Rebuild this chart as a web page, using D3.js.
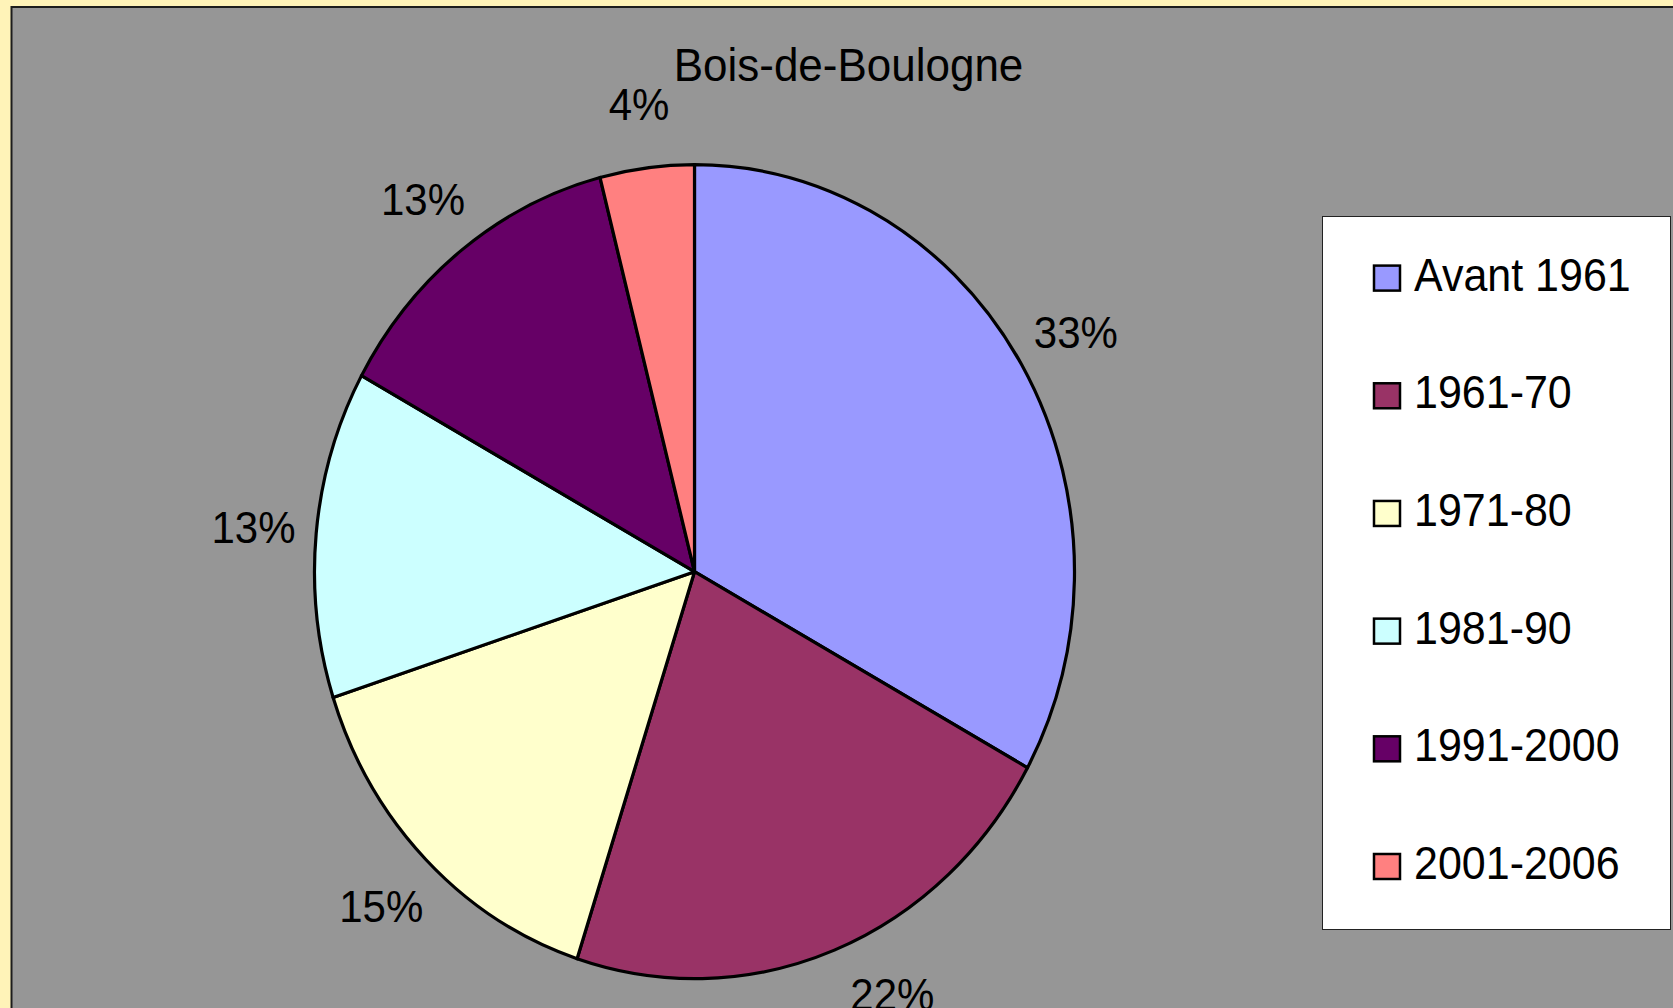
<!DOCTYPE html>
<html>
<head>
<meta charset="utf-8">
<script src="https://cdn.jsdelivr.net/npm/d3@7"></script>
<style>
  html, body { margin: 0; padding: 0; background: #FFF3B8; overflow: hidden; }
  svg { display: block; }
  text { font-family: "Liberation Sans", Arial, sans-serif; fill: #000; }
</style>
</head>
<body>
<svg id="chart" width="1673" height="1008"></svg>
<script>
// Construction periods and their share of the housing stock (percent)
const title = "Bois-de-Boulogne";
const periods = ["Avant 1961", "1961-70", "1971-80", "1981-90", "1991-2000", "2001-2006"];
const shares = [33, 22, 15, 13, 13, 4];
const colors = ["#9999FF", "#993366", "#FFFFCC", "#CCFFFF", "#660066", "#FF8080"];

const W = 1673, H = 1008;
const svg = d3.select("#chart");

// page background and grey plot area
svg.append("rect").attr("width", W).attr("height", H).attr("fill", "#FFF3B8");
const plot = { x: 11.5, y: 7, w: 1674, h: 1010 };
svg.append("rect")
  .attr("x", plot.x).attr("y", plot.y)
  .attr("width", plot.w).attr("height", plot.h)
  .attr("fill", "#969696")
  .attr("stroke", "#1c1c1c").attr("stroke-width", 2);

// title, centred on the plot area
const textScaleY = 1.07;
svg.append("text")
  .attr("transform", `translate(${plot.x + plot.w / 2},81) scale(1,${textScaleY})`)
  .attr("text-anchor", "middle")
  .attr("font-size", 44)
  .text(title);

// pie: drawn as a circle then stretched vertically into an ellipse
const cx = 694.5, cy = 571.7, rx = 380, ry = 407;
const sy = ry / rx;
const data = periods.map((p, i) => ({ period: p, value: shares[i], color: colors[i] }));
const pie = d3.pie().sort(null).value(d => d.value).startAngle(0).endAngle(2 * Math.PI);
const arcs = pie(data);
const arc = d3.arc().innerRadius(0).outerRadius(rx);

const g = svg.append("g").attr("transform", `translate(${cx},${cy}) scale(1,${sy})`);
g.selectAll("path")
  .data(arcs)
  .join("path")
  .attr("d", arc)
  .attr("fill", d => d.data.color)
  .attr("stroke", "#000")
  .attr("stroke-width", 3.2)
  .attr("stroke-linejoin", "round")
  .attr("vector-effect", "non-scaling-stroke");

// percentage labels placed outside the slices on a wider ellipse,
// slid along it when they would fall below the visible area
const labelRx = 443, labelRy = 472;
const maxY = 994;
const fmt = d3.format(".0%");
const total = d3.sum(shares);
arcs.forEach(a => {
  const mid = (a.startAngle + a.endAngle) / 2;
  let x = cx + labelRx * Math.sin(mid);
  let y = cy - labelRy * Math.cos(mid);
  if (y > maxY) {
    y = maxY;
    const t = Math.min(1, (y - cy) / labelRy);
    const dx = labelRx * Math.sqrt(1 - t * t);
    x = cx + (Math.sin(mid) >= 0 ? dx : -dx);
  }
  svg.append("text")
    .attr("transform", `translate(${x},${y}) scale(1,${textScaleY})`)
    .attr("text-anchor", "middle")
    .attr("dy", "0.36em")
    .attr("font-size", 42)
    .text(fmt(a.data.value / total));
});

// legend
const lg = { x: 1322.5, y: 216.5, right: 1670.5, bottom: 929.5 };
svg.append("rect")
  .attr("x", lg.x).attr("y", lg.y)
  .attr("width", lg.right - lg.x).attr("height", lg.bottom - lg.y)
  .attr("fill", "#FFFFFF")
  .attr("stroke", "#222").attr("stroke-width", 1);

const rowY = d3.scalePoint().domain(periods).range([265.6, 854]);
const items = svg.selectAll("g.legend-item")
  .data(data)
  .join("g")
  .attr("class", "legend-item")
  .attr("transform", d => `translate(0,${rowY(d.period)})`);
items.append("rect")
  .attr("x", 1374).attr("y", 0)
  .attr("width", 26).attr("height", 25)
  .attr("fill", d => d.color)
  .attr("stroke", "#000").attr("stroke-width", 2.5);
items.append("text")
  .attr("transform", `translate(1414,25) scale(1,1.09)`)
  .attr("font-size", 43)
  .text(d => d.period);
</script>
</body>
</html>
